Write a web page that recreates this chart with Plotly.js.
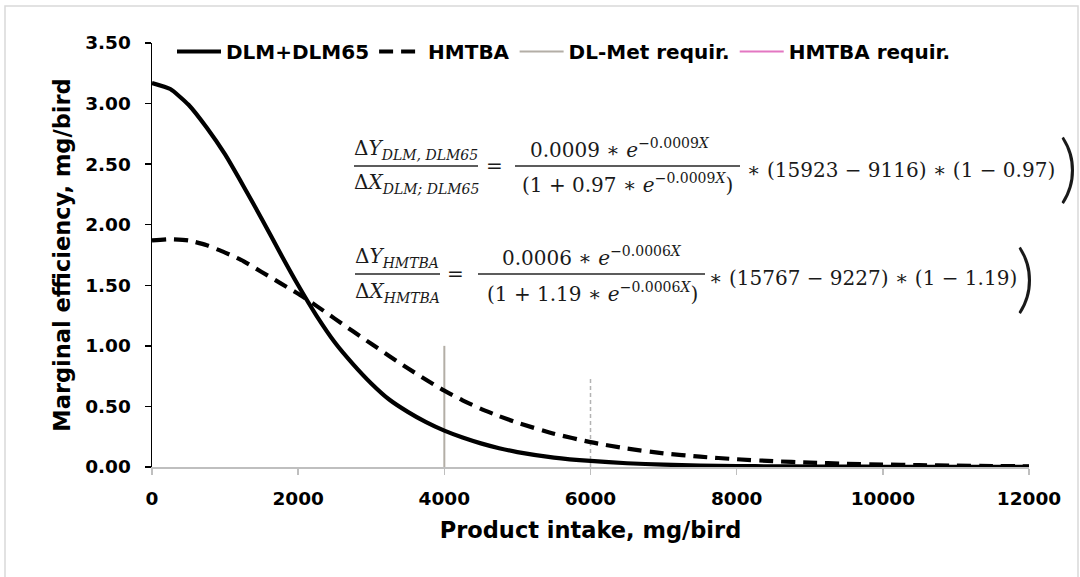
<!DOCTYPE html>
<html><head><meta charset="utf-8">
<script src="https://cdn.plot.ly/plotly-3.0.1.min.js"></script>
<style>html,body{margin:0;padding:0;background:#fff}#chart{width:1080px;height:577px}</style>
</head><body><div id="chart"></div>
<script>
// ---- data ----
const intake = [0,250,500,750,1000,1250,1500,1750,2000,2250,2500,2750,3000,3250,3500,3750,4000,4250,4500,4750,5000,
  5500,6000,6500,7000,7500,8000,8500,9000,9500,10000,10500,11000,11500,12000];
const dlmEff = [3.17,3.12,2.99,2.80,2.58,2.32,2.05,1.77,1.50,1.25,1.03,0.85,0.69,0.555,0.455,0.37,0.30,0.243,0.195,0.155,0.123,
  0.078,0.05,0.031,0.019,0.012,0.008,0.005,0.004,0.003,0.002,0.0015,0.001,0.0008,0.0005];
const hmtbaEff = [1.87,1.88,1.87,1.83,1.77,1.70,1.61,1.52,1.43,1.33,1.225,1.12,1.017,0.915,0.815,0.72,0.63,0.55,0.48,0.42,0.365,
  0.275,0.205,0.152,0.113,0.085,0.064,0.048,0.036,0.027,0.02,0.015,0.011,0.008,0.006];
const dlMetReqX = [4000, 4000];
const dlMetReqY = [0, 1.0];
const hmtbaReqX = [6000, 6000];
const hmtbaReqY = [0, 0.75];
const seriesNames = ['DLM+DLM65', 'HMTBA', 'DL-Met requir.', 'HMTBA requir.'];
const xTickVals = [0, 2000, 4000, 6000, 8000, 10000, 12000];
const yTickVals = [0, 0.5, 1.0, 1.5, 2.0, 2.5, 3.0, 3.5];
const xTitle = 'Product intake, mg/bird';
const yTitle = 'Marginal efficiency, mg/bird';

// ---- layout helpers (pixel -> paper) ----
const L = 152, R = 1029, T = 43, B = 467;
const px = x => (x - L) / (R - L);
const py = y => (B - y) / (B - T);

const traces = [
  {x: dlMetReqX, y: dlMetReqY, mode: 'lines', name: seriesNames[2], legendrank: 3,
   line: {color: '#b3aea6', width: 2}},
  {x: hmtbaReqX, y: hmtbaReqY, mode: 'lines', name: seriesNames[3], showlegend: false,
   line: {color: '#b3b3b3', width: 1.5, dash: '4px,3px'}},
  {x: [null], y: [null], mode: 'lines', name: seriesNames[3], legendrank: 4,
   line: {color: '#e377c2', width: 2}},
  {x: intake, y: dlmEff, mode: 'lines', name: seriesNames[0], legendrank: 1,
   line: {color: '#000', width: 4.2, shape: 'spline', smoothing: 0.5}},
  {x: intake, y: hmtbaEff, mode: 'lines', name: seriesNames[1], legendrank: 2,
   line: {color: '#000', width: 4.2, dash: '14px,8px', shape: 'spline', smoothing: 0.5}}
];

// text pieces with explicit sizes (italic, subscript, superscript)
const it = (s, size) => '<span style="font-style:italic;font-size:' + size + 'px">' + s + '</span>';
const sub = s => '<span style="font-style:italic;font-size:14px;baseline-shift:-5px">' + s + '</span>';
const sup = s => '<span style="font-size:14px;baseline-shift:9px">' + s + '</span>';
const supX = n => '<span style="font-size:14px;baseline-shift:9px">' + n + '<span style="font-style:italic;font-size:14px">X</span></span>';
const eqFont = {family: 'DejaVu Serif', size: 20, color: '#1a1a1a', weight: 'normal'};
function ann(text, x, y, xa) {
  return {text: text, xref: 'paper', yref: 'paper', x: px(x), y: py(y), xanchor: xa || 'center',
    yanchor: 'middle', showarrow: false, font: Object.assign({}, eqFont)};
}
function paren(x, y) {
  return {text: ')', xref: 'paper', yref: 'paper', x: px(x), y: py(y), xanchor: 'center', yanchor: 'middle',
    showarrow: false, font: {family: 'Lato', weight: 300, size: 74, color: '#1a1a1a'}};
}
const annotations = [
  ann('Δ' + it('Y', 20) + sub('DLM, DLM65'), 416, 149),
  ann('Δ' + it('X', 20) + sub('DLM; DLM65'), 416, 184),
  ann('=', 494, 166),
  ann('0.0009 ∗ ' + it('e', 20) + supX('−0.0009'), 620, 148),
  ann('(1 + 0.97 ∗ ' + it('e', 20) + supX('−0.0009') + ')', 627, 184),
  ann('∗ (15923 − 9116) ∗ (1 − 0.97)', 745, 170, 'left'),
  paren(1068, 165),
  ann('Δ' + it('Y', 20) + sub('HMTBA'), 397, 257),
  ann('Δ' + it('X', 20) + sub('HMTBA'), 397, 292),
  ann('=', 455, 274),
  ann('0.0006 ∗ ' + it('e', 20) + supX('−0.0006'), 592, 256),
  ann('(1 + 1.19 ∗ ' + it('e', 20) + supX('−0.0006') + ')', 592, 292),
  ann('∗ (15767 − 9227) ∗ (1 − 1.19)', 707, 278, 'left'),
  paren(1025, 275)
];

function bar(x0, x1, y) {
  return {type: 'line', xref: 'paper', yref: 'paper', x0: px(x0), x1: px(x1), y0: py(y), y1: py(y),
    line: {color: '#262626', width: 1.5}};
}
const shapes = [
  {type: 'rect', xref: 'paper', yref: 'paper', x0: px(5), x1: px(1078), y0: py(6), y1: py(600),
   line: {color: '#d9d9d9', width: 1.5}, layer: 'below'},
  bar(354, 478, 166), bar(515, 740, 166),
  bar(355, 440, 274), bar(478, 705, 274)
];

const layout = {
  width: 1080, height: 577,
  margin: {l: 152, r: 51, t: 43, b: 110},
  paper_bgcolor: '#fff', plot_bgcolor: '#fff',
  font: {family: 'DejaVu Sans', weight: 'bold', size: 18.5, color: '#000'},
  showlegend: true,
  legend: {orientation: 'h', x: px(172), y: py(51.5), xanchor: 'left', yanchor: 'middle',
    font: {family: 'DejaVu Sans', weight: 'bold', size: 20, color: '#000'},
    bgcolor: 'rgba(0,0,0,0)', itemwidth: 44, traceorder: 'normal'},
  xaxis: {range: [0, 12000], tickvals: xTickVals, ticktext: xTickVals.map(String),
    showgrid: false, zeroline: false, showline: true, linecolor: '#bfbfbf', linewidth: 2,
    ticks: 'outside', ticklen: 6, tickcolor: '#bfbfbf', tickwidth: 1.5, ticklabelstandoff: 8,
    tickfont: {family: 'DejaVu Sans', weight: 'bold', size: 18.5, color: '#000'},
    title: {text: xTitle, font: {family: 'DejaVu Sans', weight: 'bold', size: 22.5, color: '#000'}, standoff: 14}},
  yaxis: {range: [0, 3.5], tickvals: yTickVals, ticktext: yTickVals.map(v => v.toFixed(2)),
    showgrid: false, zeroline: false, showline: true, linecolor: '#000', linewidth: 1.5,
    ticks: 'outside', ticklen: 6, tickcolor: '#000', tickwidth: 1.5, ticklabelstandoff: 10,
    tickfont: {family: 'DejaVu Sans', weight: 'bold', size: 18.5, color: '#000'},
    title: {text: yTitle, font: {family: 'DejaVu Sans', weight: 'bold', size: 22.5, color: '#000'}, standoff: 8}},
  annotations: annotations,
  shapes: shapes
};

Plotly.newPlot('chart', traces, layout, {displayModeBar: false, staticPlot: true});
</script>
</body></html>
